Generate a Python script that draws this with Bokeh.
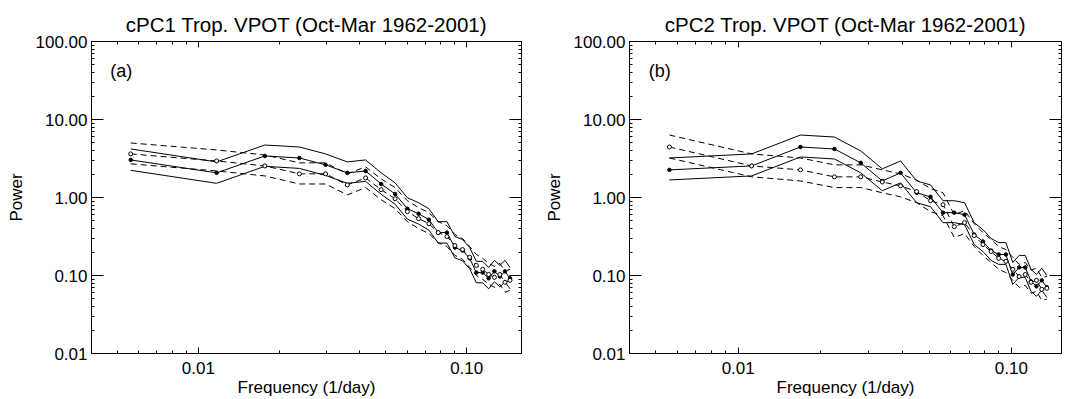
from bokeh.plotting import figure
from bokeh.models import FixedTicker, PrintfTickFormatter, LogAxis, CustomJSTickFormatter
from bokeh.layouts import row
from bokeh.embed import file_html
from bokeh.resources import INLINE
from bokeh.core.properties import value

# ---------------- data ----------------
freq_a = [0.0056, 0.0117, 0.0177, 0.0238, 0.0298, 0.0359, 0.0420, 0.0480, 0.0541, 0.0601,
          0.0662, 0.0723, 0.0783, 0.0844, 0.0904, 0.0965, 0.1026, 0.1086, 0.1147, 0.1207,
          0.1268, 0.1329, 0.1389, 0.1450]
a_solid_mid = [3.03, 2.07, 3.41, 3.21, 2.62, 2.07, 2.19, 1.49, 1.11, 0.719, 0.620, 0.520,
               0.355, 0.355, 0.228, 0.209, 0.166, 0.109, 0.109, 0.092, 0.113, 0.097, 0.113, 0.092]
a_solid_up = [4.19, 2.86, 4.71, 4.44, 3.62, 2.86, 3.03, 2.07, 1.54, 0.993, 0.857, 0.719,
              0.490, 0.490, 0.316, 0.289, 0.228, 0.152, 0.152, 0.127, 0.156, 0.135, 0.156, 0.127]
a_solid_lo = [2.23, 1.52, 2.51, 2.36, 1.92, 1.52, 1.61, 1.10, 0.820, 0.528, 0.456, 0.382,
              0.260, 0.260, 0.168, 0.154, 0.122, 0.0806, 0.0806, 0.0675, 0.0830, 0.0716, 0.0830, 0.0675]
a_dash_mid = [3.62, 2.94, 2.54, 2.01, 2.01, 1.45, 1.78, 1.26, 0.964, 0.658, 0.536, 0.462,
              0.355, 0.316, 0.242, 0.215, 0.171, 0.135, 0.120, 0.103, 0.0947, 0.103, 0.0818, 0.0867]
a_dash_up = [5.00, 4.07, 3.51, 2.78, 2.78, 2.01, 2.47, 1.73, 1.34, 0.909, 0.741, 0.639,
             0.490, 0.436, 0.335, 0.298, 0.235, 0.186, 0.166, 0.143, 0.131, 0.143, 0.113, 0.120]
a_dash_lo = [2.70, 2.19, 1.89, 1.49, 1.49, 1.08, 1.34, 0.936, 0.719, 0.490, 0.400, 0.345,
             0.264, 0.235, 0.181, 0.161, 0.127, 0.100, 0.0893, 0.0771, 0.0706, 0.0771, 0.0609, 0.0646]

freq_b = [0.0056, 0.0112, 0.0169, 0.0225, 0.0281, 0.0337, 0.0393, 0.0450, 0.0506, 0.0562,
          0.0618, 0.0674, 0.0731, 0.0787, 0.0843, 0.0899, 0.0955, 0.1012, 0.1068, 0.1124,
          0.1180, 0.1236, 0.1292, 0.1349]
b_solid_mid = [2.26, 2.54, 4.44, 4.19, 2.78, 1.63, 2.07, 1.15, 1.02, 0.639, 0.639, 0.602,
               0.335, 0.273, 0.209, 0.186, 0.186, 0.103, 0.127, 0.127, 0.0842, 0.0727, 0.0867, 0.0706]
b_solid_up = [3.21, 3.62, 6.32, 5.96, 3.95, 2.33, 2.94, 1.63, 1.45, 0.909, 0.909, 0.857,
              0.476, 0.388, 0.298, 0.264, 0.264, 0.147, 0.181, 0.181, 0.120, 0.103, 0.124, 0.100]
b_solid_lo = [1.68, 1.89, 3.31, 3.12, 2.07, 1.22, 1.54, 0.857, 0.762, 0.476, 0.476, 0.449,
              0.249, 0.203, 0.156, 0.139, 0.139, 0.0771, 0.0947, 0.0947, 0.0627, 0.0541, 0.0646, 0.0526]
b_dash_mid = [4.44, 2.54, 2.26, 1.84, 1.84, 1.58, 1.41, 1.19, 0.909, 0.808, 0.423, 0.476,
              0.325, 0.249, 0.203, 0.166, 0.152, 0.120, 0.097, 0.103, 0.0818, 0.0867, 0.0665, 0.0685]
b_dash_up = [6.32, 3.62, 3.21, 2.62, 2.62, 2.26, 2.01, 1.68, 1.30, 1.15, 0.602, 0.678,
             0.462, 0.355, 0.289, 0.235, 0.215, 0.171, 0.139, 0.147, 0.117, 0.124, 0.0947, 0.097]
b_dash_lo = [3.21, 1.84, 1.63, 1.34, 1.34, 1.15, 1.02, 0.857, 0.658, 0.585, 0.307, 0.345,
             0.235, 0.181, 0.147, 0.120, 0.109, 0.0867, 0.0706, 0.0749, 0.0591, 0.0627, 0.0482, 0.0496]

titles = ["cPC1 Trop. VPOT (Oct-Mar 1962-2001)", "cPC2 Trop. VPOT (Oct-Mar 1962-2001)"]
panel_tags = ["(a)", "(b)"]
x_label = "Frequency (1/day)"
y_label = "Power"
x_major = [0.01, 0.1]
y_major = [0.01, 0.1, 1.0, 10.0, 100.0]

FONT = "Liberation Sans"
x_minor = [m * d for d in (0.001, 0.01, 0.1) for m in range(2, 10)]
y_minor = [m * d for d in (0.01, 0.1, 1.0, 10.0) for m in range(2, 10)]


def style_axis(ax, is_x, labels):
    ax.ticker = FixedTicker(ticks=x_major if is_x else y_major,
                            minor_ticks=x_minor if is_x else y_minor)
    ax.axis_line_color = "black"
    ax.major_tick_line_color = "black"
    ax.minor_tick_line_color = "black"
    ax.major_tick_out = 0
    ax.minor_tick_out = 0
    ax.major_tick_in = 6 if is_x else 12
    ax.minor_tick_in = 3
    ax.major_label_text_font = FONT
    ax.major_label_text_color = "black"
    ax.axis_label_text_font = FONT
    ax.axis_label_text_font_style = "normal"
    ax.axis_label_text_color = "black"
    if labels:
        ax.formatter = PrintfTickFormatter(format="%.2f")
        ax.major_label_text_font_size = "17px"
        ax.axis_label_text_font_size = "17px"
        ax.major_label_standoff = 8 if is_x else 4
        ax.axis_label_standoff = 1 if is_x else 7
    else:
        ax.formatter = CustomJSTickFormatter(code="return '';")
        ax.major_label_standoff = 0


def make_panel(idx, freq, s_up, s_mid, s_lo, d_up, d_mid, d_lo, xmax, bl, br):
    p = figure(width=535, height=399, x_axis_type="log", y_axis_type="log",
               x_range=(0.004, xmax), y_range=(0.01, 100),
               output_backend="svg", toolbar_location=None,
               min_border_left=bl, min_border_right=br,
               min_border_top=41, min_border_bottom=44)
    p.title.text = titles[idx]
    p.title.align = "center"
    p.title.vertical_align = "middle"
    p.title.text_font = FONT
    p.title.text_font_size = "20.5px"
    p.title.text_font_style = "normal"
    p.title.text_color = "black"
    p.grid.visible = False
    p.outline_line_color = "black"
    p.background_fill_color = "white"
    p.border_fill_color = "white"

    p.xaxis.axis_label = x_label
    p.yaxis.axis_label = y_label
    for ax in p.xaxis:
        style_axis(ax, True, True)
    for ax in p.yaxis:
        style_axis(ax, False, True)
    top = LogAxis()
    style_axis(top, True, False)
    p.add_layout(top, "above")
    right = LogAxis()
    style_axis(right, False, False)
    p.add_layout(right, "right")

    for ys in (s_up, s_mid, s_lo):
        p.line(freq, ys, line_color="black", line_width=1)
    for ys in (d_up, d_mid, d_lo):
        p.line(freq, ys, line_color="black", line_width=1, line_dash="6 4")
    p.scatter(freq, s_mid, marker="circle", size=3.5, fill_color="black", line_color="black")
    p.scatter(freq, d_mid, marker="circle", size=4, fill_color="white", line_color="black",
              line_width=1)

    p.text(x=[0.0047], y=[42.0], text=[panel_tags[idx]], text_font=value(FONT),
           text_font_size="18px", text_baseline="middle", text_align="left", text_color="black")
    return p


pa = make_panel(0, freq_a, a_solid_up, a_solid_mid, a_solid_lo,
                a_dash_up, a_dash_mid, a_dash_lo, 0.16, 91, 14)
pb = make_panel(1, freq_b, b_solid_up, b_solid_mid, b_solid_lo,
                b_dash_up, b_dash_mid, b_dash_lo, 0.1526, 94, 9)

layout = row(pa, pb)
open("out.html", "w").write(file_html(layout, INLINE))
